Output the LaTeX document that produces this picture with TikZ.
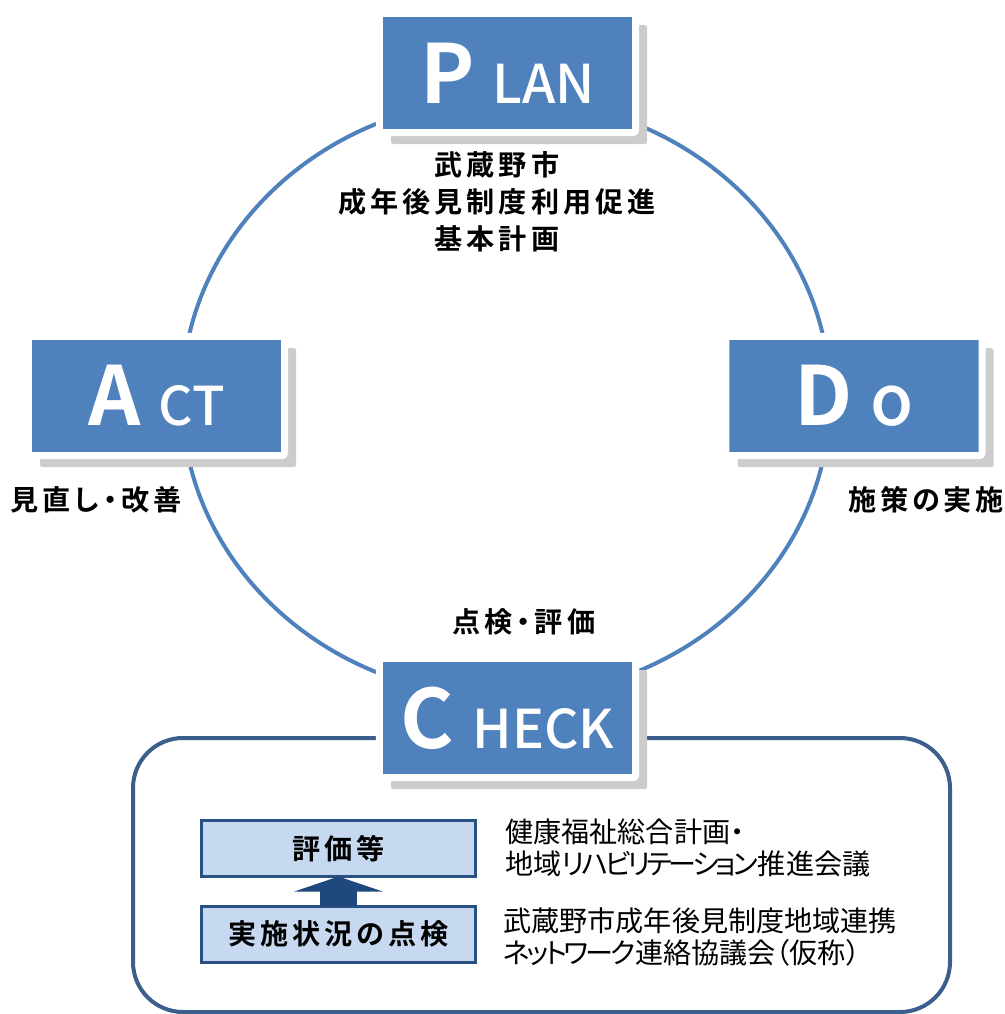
\documentclass[tikz,border=0pt]{standalone}
\usepackage{fontspec}
\setmainfont{Noto Sans CJK JP}
\newfontfamily\boldjp{Noto Sans CJK JP Bold}[RawFeature=+palt,LetterSpace=14]
\newfontfamily\plainjp{Noto Sans CJK JP}[RawFeature=+palt]
\newfontfamily\kanajp{Noto Sans CJK JP}[RawFeature=+palt,LetterSpace=-12]
\newfontfamily\bigltr{Noto Sans CJK JP Bold}
\newfontfamily\smallltr{Noto Sans CJK JP Medium}
\usetikzlibrary{shadows,arrows.meta,positioning,calc}
\definecolor{pdcablue}{HTML}{4F81BD}
\definecolor{framecol}{HTML}{3B5E8C}
\definecolor{stepfill}{HTML}{C6D9F1}
\definecolor{stepline}{HTML}{2A5183}
\definecolor{arrowcol}{HTML}{1F497D}
\newcommand\phasetitle[2]{{\bigltr\fontsize{58}{58}\selectfont #1}\hspace{0.45cm}{\smallltr\fontsize{38}{38}\selectfont #2}}

\begin{document}
\begin{tikzpicture}[x=0.025cm,y=-0.025cm,
  phase/.style={fill=pdcablue,draw=white,line width=0.175cm,rounded corners=0.06cm,minimum width=6.4cm,minimum height=2.975cm,inner sep=0pt,text=white,general shadow={fill=black!20,shadow xshift=0.29cm,shadow yshift=-0.29cm}},
  stepbox/.style={fill=stepfill,draw=stepline,line width=0.075cm,minimum width=6.85cm,minimum height=1.4cm,inner sep=0pt,outer sep=0pt,font=\boldjp\fontsize{20}{24}\selectfont},
  phaselabel/.style={font=\boldjp\fontsize{20}{26.3}\selectfont,align=center,inner sep=0pt},
  member/.style={font=\plainjp\fontsize{20}{22.8}\selectfont,align=left,anchor=west,inner sep=0pt}]
\useasboundingbox (0,0) rectangle (1005,1014);

\draw[pdcablue,line width=0.1cm](506,398)ellipse[x radius=8.1cm,y radius=7.475cm];
\draw[framecol,line width=0.1cm,rounded corners=1.25cm](133,738)rectangle(950,1012);

\node[phase](plan)at(507.5,73){\phasetitle{P}{LAN}};
\node[phase](act)at(156.5,396){\phasetitle{A}{CT}};
\node[phase](do)at(854,396){\phasetitle{D}{{\fontsize{50}{50}\selectfont o}}};
\node[phase](check)at(507.5,718){\phasetitle{C}{HECK}};

\node[phaselabel](plantext)at(497,202){武蔵野市\\成年後見制度利用促進\\基本計画};
\node[phaselabel](acttext)at(96,500){見直し・改善};
\node[phaselabel](dotext)at(926,500){施策の実施};
\node[phaselabel](checktext)at(524,622){点検・評価};

\node[stepbox](eval)at(338.5,848.5){評価等};
\node[stepbox](impl)at(338.5,934){実施状況の点検};
\draw[arrowcol,line width=0.925cm,-{Triangle[width=2.2cm,length=0.375cm]}](impl.north)--(eval.south);

\node[member](welfare)at(505,848){健康福祉総合計画・\\地域{\kanajp リハビリテーション}推進会議};
\node[member](network)at(503,936.5){武蔵野市成年後見制度地域連携\\{\kanajp ネットワーク}連絡協議会（仮称）};
\end{tikzpicture}
\end{document}
